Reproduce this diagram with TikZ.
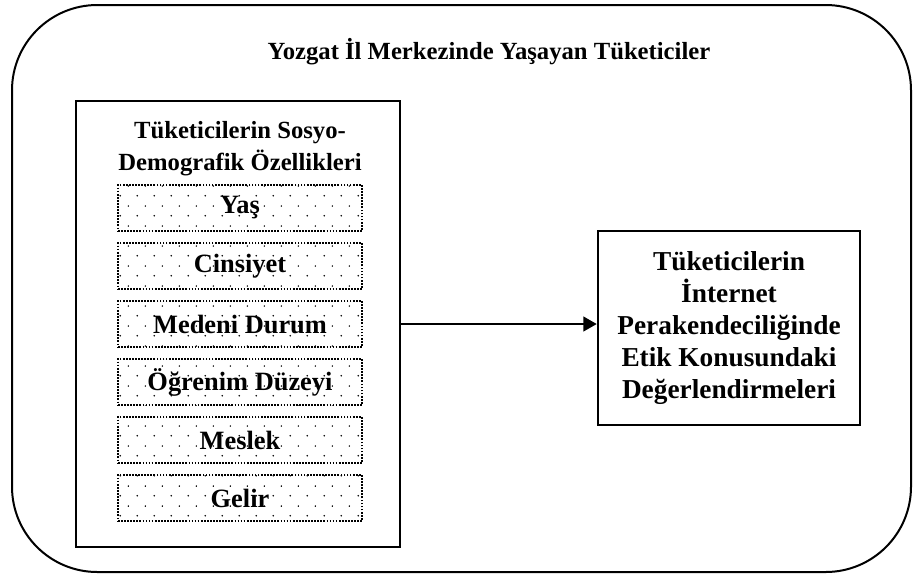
\documentclass[tikz,border=0pt]{standalone}
\usepackage{fontspec}
\setmainfont{Liberation Serif}
\usetikzlibrary{arrows.meta,patterns,calc}
\pgfdeclarepatternformonly{puntos}{\pgfpointorigin}{\pgfqpoint{12.75pt}{15pt}}{\pgfqpoint{12.75pt}{15pt}}{%
  \pgfpathcircle{\pgfqpoint{1pt}{1pt}}{0.65pt}
  \pgfpathcircle{\pgfqpoint{7.4pt}{8.5pt}}{0.65pt}
  \pgfusepath{fill}}
\tikzset{
  texto/.style={font=\fontsize{18.5}{24}\selectfont\bfseries, align=center},
  caja/.style={draw, line width=1.6pt, inner sep=0pt},
  punteada/.style={draw, densely dotted, line width=1.3pt, pattern=puntos,
    minimum width=183pt, minimum height=34.5pt, inner sep=0pt},
}
\begin{document}
\begin{tikzpicture}[x=0.75pt,y=-0.75pt]% unidades en px
\useasboundingbox (0,0) rectangle (913,576);
\draw[line width=1.5pt, rounded corners=64pt] (12,5) rectangle (911,572);
\node[texto] (yozgat) at (489,52) {Yozgat İl Merkezinde Yaşayan Tüketiciler};
\node[caja, minimum width=243pt, minimum height=334.5pt] (demo) at (238,324) {};
\node[texto] (baslik) at (240,149) {Tüketicilerin Sosyo-\\Demografik Özellikleri};
\foreach \t [count=\i from 0] in {Yaş,Cinsiyet,Medeni Durum,Öğrenim Düzeyi,Meslek,Gelir}
  \node[punteada, texto, font=\fontsize{19.8}{24}\selectfont\bfseries] (d\i) at (240,208+58*\i) {\t};
\node[caja, line width=1.9pt, minimum width=196.5pt, minimum height=145.5pt, texto,
  font=\fontsize{20.5}{24}\selectfont\bfseries] (etik) at (729,328)
  {Tüketicilerin\\İnternet\\Perakendeciliğinde\\Etik Konusundaki\\Değerlendirmeleri};
\draw[line width=1.5pt, -{Triangle[length=10pt,width=11pt]}] (demo.east) -- (demo.east -| etik.west);
\end{tikzpicture}
\end{document}
